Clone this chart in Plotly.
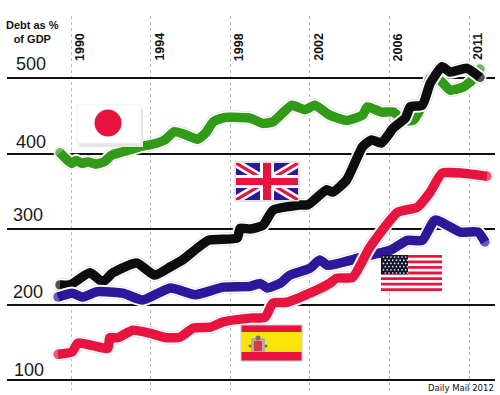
import plotly.graph_objects as go

W, H = 500, 395
L, R, T, B = 7, 5, 16, 5

grid_years = [1990, 1994, 1998, 2002, 2006, 2010]
year_labels = ["1990", "1994", "1998", "2002", "2006", "2011"]
y_levels = [100, 200, 300, 400, 500]

japan_x = [1989.45,1989.75,1990.05,1990.25,1990.55,1990.85,1991.25,1991.65,1992.05,1992.7,1993.45,1994.2,1994.7,1995.2,1995.75,1996.35,1996.75,1997.15,1997.6,1997.95,1999.0,1999.65,2000.15,2001.1,2001.75,2002.25,2003.0,2003.85,2004.65,2004.9,2005.6,2006.2,2006.7,2007.2,2007.7,2008.05,2008.55,2009.05,2009.7,2010.15,2010.55]
japan_y = [401,393,387,391,387,389,386,389,398,403,409,413,418,429,425,419,427,442,447,448,447,440,442,464,458,464,451,444,451,462,455,455,444,444,467,500,497,484,488,497,512]

uk_x = [1989.45,1989.95,1990.95,1991.6,1992.1,1993.3,1994.2,1995.0,1995.6,1996.9,1998.35,1998.5,1999.0,1999.65,2000.15,2001.5,2001.9,2002.85,2003.15,2003.85,2004.65,2005.1,2005.6,2006.2,2006.8,2007.05,2007.65,2008.05,2008.65,2009.05,2009.9,2010.55]
uk_y = [226,226,242,230,242,255,239,250,259,285,288,301,300,305,325,332,332,352,349,365,409,418,414,434,447,462,464,493,515,508,513,501]

usa_x = [1989.35,1990.05,1990.6,1991.3,1992.6,1993.6,1995.0,1996.25,1997.65,1999.0,1999.5,1999.85,2000.5,2001.0,2002.0,2002.5,2002.9,2004.5,2006.05,2006.9,2007.65,2008.3,2009.55,2010.45,2010.8]
usa_y = [210,215,210,217,215,206,222,213,223,224,228,222,228,239,248,259,252,262,272,285,285,312,296,296,283]

spain_x = [1989.35,1990.05,1990.35,1991.85,1991.95,1992.35,1993.1,1993.95,1994.8,1995.5,1996.15,1997.0,1997.65,1999.0,1999.75,2000.15,2000.85,2002.0,2003.0,2003.35,2004.15,2005.0,2006.4,2007.4,2008.05,2008.65,2009.7,2010.9]
spain_y = [134,137,149,142,156,156,166,162,156,157,169,170,177,182,183,202,203,215,228,235,236,275,322,329,349,374,374,370]

series = [
    ("Japan", japan_x, japan_y, "#319a17"),
    ("UK", uk_x, uk_y, "#0d0d0f"),
    ("USA", usa_x, usa_y, "#2d179b"),
    ("Spain", spain_x, spain_y, "#e8143f"),
]

px_w, px_h = W - L - R, H - T - B
xr = [1990 + (L - 71) / 19.9, 1990 + (W - R - 71) / 19.9]
yr = [100 + (380 - (H - B)) * 1.325, 100 + (380 - T) * 1.325]

LW = 9.5
fig = go.Figure()
for name, xs, ys, col in series:
    n = len(xs)
    for c, w in (("#d8d8d8", LW + 4), ("#ffffff", LW + 3), (col, LW)):
        fig.add_trace(go.Scatter(x=xs, y=ys, mode="lines+markers", hoverinfo="skip", showlegend=False, name=name,
            line=dict(color=c, width=w, shape="spline", smoothing=0.5),
            marker=dict(color=c, size=[w] + [0] * (n - 2) + [w], line=dict(width=0))))

def X(p): return (p - L) / px_w
def Y(p): return 1 - (p - T) / px_h

shapes = []
def rect(x0, y0, x1, y1, fill, line=None, lw=0):
    shapes.append(dict(type="rect", xref="paper", yref="paper", x0=X(x0), x1=X(x1), y0=Y(y0), y1=Y(y1),
                       fillcolor=fill, line=dict(color=line or fill, width=lw), layer="above"))
def circle(cx, cy, r, fill):
    shapes.append(dict(type="circle", xref="paper", yref="paper", x0=X(cx - r), x1=X(cx + r), y0=Y(cy - r), y1=Y(cy + r),
                       fillcolor=fill, line=dict(width=0), layer="above"))
def poly(points, fill):
    path = "M" + " L".join(f"{X(a):.5f},{Y(b):.5f}" for a, b in points) + " Z"
    shapes.append(dict(type="path", xref="paper", yref="paper", path=path, fillcolor=fill, line=dict(width=0), layer="above"))

# Japan flag
rect(79, 109, 143, 147, "#e6e6e6")
rect(77, 105, 141, 143, "#ffffff", "#f0f0f0", 1)
circle(108, 123, 13.5, "#e8143f")

# UK flag
ux0, uy0, ux1, uy1 = 236, 163, 298, 200
rect(ux0 - 1, uy0 - 1, ux1 + 1, uy1 + 1, "#ffffff", "#c8c8c8", 1)
rect(ux0, uy0, ux1, uy1, "#2d179b")
def diag(a, b, c, d, w, h, fill):
    sx = 1 if c > a else -1
    poly([(a, b), (a + sx * w, b), (c, d - h), (c, d), (c - sx * w, d), (a, b + h)], fill)
diag(ux0, uy0, ux1, uy1, 8, 5, "#ffffff")
diag(ux1, uy0, ux0, uy1, 8, 5, "#ffffff")
diag(ux0, uy0, ux1, uy1, 3, 2, "#e8143f")
diag(ux1, uy0, ux0, uy1, 3, 2, "#e8143f")
rect(260, uy0, 274, uy1, "#ffffff")
rect(ux0, 175, ux1, 188, "#ffffff")
rect(263, uy0, 271, uy1, "#e8143f")
rect(ux0, 178, ux1, 185, "#e8143f")

# Spain flag
rect(241, 325, 302, 361, "#e8143f", "#c8c8c8", 1)
rect(241, 332, 302, 352, "#f9e50a")
rect(251, 338, 265, 352, "#b9a9a0")
rect(254, 341, 262, 351, "#d63a45")
circle(258, 338, 2.5, "#8a6a6a")
circle(250, 346, 1.5, "#3a8a4a")
circle(266, 346, 1.5, "#3a8a4a")

# USA flag
sx0, sy0, sx1, sy1 = 381, 255, 442, 291
sh = (sy1 - sy0) / 13
rect(sx0, sy0, sx1, sy1, "#ffffff")
for i in range(0, 13, 2):
    rect(sx0, sy0 + i * sh, sx1, sy0 + (i + 1) * sh, "#e8143f")
rect(sx0, sy0, 408, sy0 + 7 * sh, "#15152b")
for r in range(6):
    for c in range(7):
        circle(sx0 + 2.5 + c * 3.7 + (r % 2) * 1.8, sy0 + 2 + r * 3.2, 0.85, "#e4e4ee")

ann = []
NARROW = "Liberation Sans Narrow, Arial Narrow, Liberation Sans, sans-serif"
for gx, lab in zip(grid_years, year_labels):
    ann.append(dict(x=gx, y=1, xref="x", yref="paper", yshift=-31, xshift=9, text=f"<b>{lab}</b>", textangle=-90,
                    showarrow=False, yanchor="middle", xanchor="center",
                    font=dict(family=NARROW, size=12.5, color="#111111")))

label_offsets = [(29, 10), (28, 13), (28, 14), (31, 12), (31, 14)]
for lev, (px, sh_) in zip(y_levels, label_offsets):
    ann.append(dict(x=X(px), y=lev, xref="paper", yref="y", yshift=sh_, text=str(lev), showarrow=False,
                    xanchor="center", yanchor="middle", font=dict(family="Liberation Sans, Arial, sans-serif", size=18, color="#1a1a1a")))

ann.append(dict(x=X(32), y=Y(32), xref="paper", yref="paper", text="<b>Debt as %<br>of GDP</b>", showarrow=False,
                xanchor="center", yanchor="middle", align="center",
                font=dict(family=NARROW, size=11, color="#111111")))
ann.append(dict(x=X(496), y=Y(388), xref="paper", yref="paper", text="Daily Mail 2012", showarrow=False,
                xanchor="right", yanchor="middle", font=dict(family="DejaVu Sans, sans-serif", size=8.5, color="#111111")))

fig.update_layout(
    width=W, height=H, margin=dict(l=L, r=R, t=T, b=B, pad=0), autosize=False,
    paper_bgcolor="#ffffff", plot_bgcolor="#ffffff", showlegend=False,
    shapes=shapes, annotations=ann,
    xaxis=dict(range=xr, tickmode="array", tickvals=grid_years, showticklabels=False, ticks="",
               showgrid=True, gridcolor="#b8b8b8", griddash="dot", gridwidth=1, zeroline=False, showline=False),
    yaxis=dict(range=yr, tickmode="array", tickvals=y_levels, showticklabels=False, ticks="",
               showgrid=True, gridcolor="#111111", gridwidth=2, zeroline=False, showline=False),
)
fig.write_html("out.html", config=dict(displayModeBar=False),
               post_script="document.body.style.margin='0';document.documentElement.style.overflow='hidden';")
